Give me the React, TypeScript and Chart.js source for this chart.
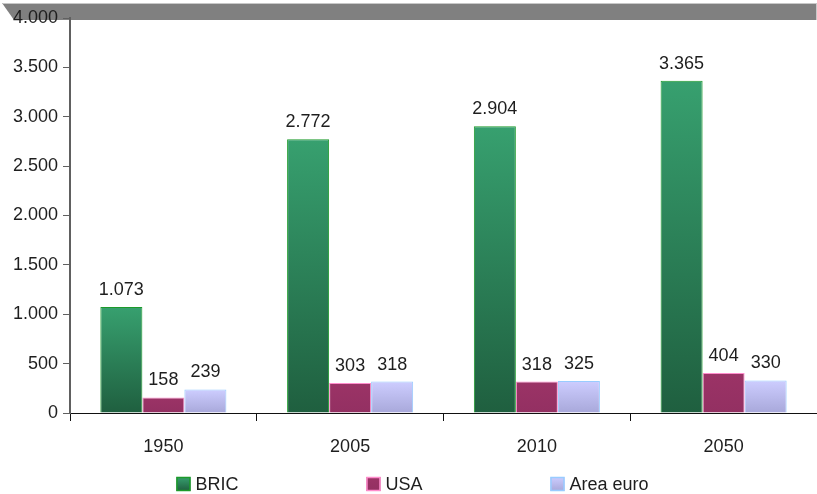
import React, { useEffect, useRef } from "react";
import { Chart, registerables } from "chart.js";

Chart.register(...registerables);

const categories = ["1950", "2005", "2010", "2050"];
const seriesNames = ["BRIC", "USA", "Area euro"];
const bricValues = [1073, 2772, 2904, 3365];
const usaValues = [158, 303, 318, 404];
const euroValues = [239, 318, 325, 330];
const yTickMax = 4000;
const yTickStep = 500;

const FONT = "'Liberation Sans', Arial, sans-serif";
const FSIZE = 18;

const fillStops: [string, string][] = [
  ["#37a06f", "#1f5f3f"],
  ["#9b3366", "#933062"],
  ["#cdcdff", "#a8a8da"],
];
const borderColors = ["#1c9a2a", "#ff8ccc", "#99ccff"];

const fmt = (v: number) => String(v).replace(/\B(?=(\d{3})+(?!\d))/g, ".");

function grad(ctx: CanvasRenderingContext2D, top: number, bottom: number, i: number) {
  if (!isFinite(top) || !isFinite(bottom) || top === bottom) return fillStops[i][0];
  const g = ctx.createLinearGradient(0, top, 0, bottom);
  g.addColorStop(0, fillStops[i][0]);
  g.addColorStop(1, fillStops[i][1]);
  return g;
}

const labelPlugin = {
  id: "barLabels",
  afterDatasetsDraw(chart: any) {
    const ctx = chart.ctx;
    ctx.save();
    ctx.font = `${FSIZE}px ${FONT}`;
    ctx.fillStyle = "#1e1e1e";
    ctx.textAlign = "center";
    ctx.textBaseline = "bottom";
    chart.data.datasets.forEach((ds: any, di: number) => {
      const meta = chart.getDatasetMeta(di);
      meta.data.forEach((bar: any, i: number) => {
        ctx.fillText(fmt(ds.data[i]), bar.x, bar.y - 8);
      });
    });
    ctx.restore();
  },
};

const legendPlugin = {
  id: "customLegend",
  afterDraw(chart: any) {
    const ctx = chart.ctx;
    ctx.save();
    ctx.font = `${FSIZE}px ${FONT}`;
    const box = 14;
    const gapText = 5;
    const gapItem = 128;
    const widths = chart.data.datasets.map((ds: any) => box + gapText + ctx.measureText(ds.label).width);
    const total = widths.reduce((a: number, b: number) => a + b, 0) + gapItem * (widths.length - 1);
    let x = chart.width / 2 + 4 - total / 2;
    const cy = 484;
    chart.data.datasets.forEach((ds: any, i: number) => {
      const top = cy - box / 2;
      ctx.fillStyle = grad(ctx, top, top + box, i);
      ctx.fillRect(x, top, box, box);
      ctx.strokeStyle = borderColors[i];
      ctx.lineWidth = 1.5;
      ctx.strokeRect(x + 0.5, top + 0.5, box - 1, box - 1);
      ctx.fillStyle = "#1e1e1e";
      ctx.textAlign = "left";
      ctx.textBaseline = "middle";
      ctx.fillText(ds.label, x + box + gapText, cy + 1);
      x += widths[i] + gapItem;
    });
    ctx.restore();
  },
};

export default function App() {
  const ref = useRef<HTMLCanvasElement | null>(null);
  useEffect(() => {
    if (!ref.current) return;
    const values = [bricValues, usaValues, euroValues];
    const chart = new Chart(ref.current, {
      type: "bar",
      data: {
        labels: categories,
        datasets: values.map((vals, i) => ({
          label: seriesNames[i],
          data: vals,
          backgroundColor: (c: any) => {
            const ch = c.chart;
            const ys = ch.scales && ch.scales.y;
            if (!ys || c.raw === undefined) return fillStops[i][0];
            return grad(ch.ctx, ys.getPixelForValue(c.raw), ys.getPixelForValue(0), i);
          },
          borderColor: borderColors[i],
          borderWidth: 1,
          categoryPercentage: 0.675,
          barPercentage: 1,
        })),
      },
      options: {
        animation: false,
        responsive: false,
        maintainAspectRatio: false,
        layout: { padding: { top: 18, left: 0, right: 0, bottom: 0 } },
        plugins: {
          legend: { display: false },
          tooltip: { enabled: false },
        },
        scales: {
          x: {
            afterFit: (s: any) => { s.height = 81; },
            grid: {
              display: true,
              drawOnChartArea: false,
              drawTicks: true,
              tickLength: 8,
              color: "#111",
              offset: true,
            },
            border: { display: true, color: "#111", width: 1 },
            ticks: { color: "#1e1e1e", font: { family: FONT, size: FSIZE }, padding: 15 },
          },
          y: {
            min: 0,
            max: yTickMax,
            afterFit: (s: any) => { s.width = 70; },
            grid: {
              display: true,
              drawOnChartArea: false,
              drawTicks: true,
              tickLength: 7,
              color: "#606060",
            },
            border: { display: true, color: "#606060", width: 2 },
            ticks: {
              stepSize: yTickStep,
              color: "#1e1e1e",
              font: { family: FONT, size: FSIZE },
              padding: 5,
              callback: (v: any) => fmt(Number(v)),
            },
          },
        },
      },
      plugins: [labelPlugin, legendPlugin],
    });
    return () => chart.destroy();
  }, []);

  return (
    <div style={{ position: "absolute", left: 0, top: 0, width: 817, height: 494, background: "#fff", overflow: "hidden" }}>
      <div
        style={{
          position: "absolute",
          left: 0,
          top: 3,
          width: 817,
          height: 17,
          background: "#808080",
          borderTop: "1px solid #c8c8c8",
          borderRight: "1px solid #c8c8c8",
          boxSizing: "border-box",
          clipPath: "polygon(2px 0, 100% 0, 100% 100%, 14px 100%)",
        }}
      />
      <canvas ref={ref} width={817} height={494} style={{ position: "absolute", left: 0, top: 0, width: 817, height: 494 }} />
    </div>
  );
}
